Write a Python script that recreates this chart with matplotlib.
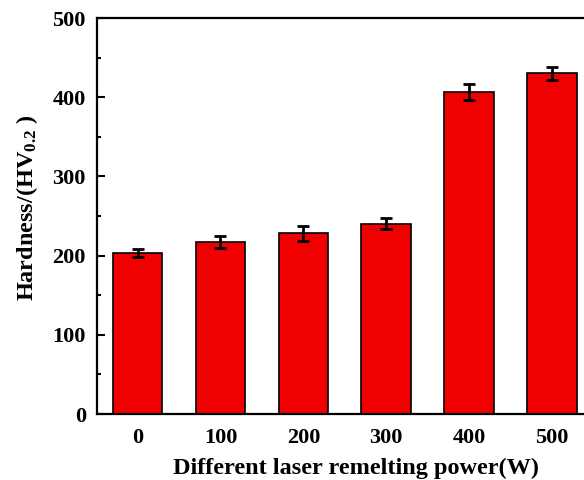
import numpy as np
import matplotlib
matplotlib.use("Agg")
import matplotlib.pyplot as plt
from matplotlib.ticker import MultipleLocator

# laser remelting power (W) and measured microhardness
powers = ["0", "100", "200", "300", "400", "500"]
hardness = [203, 217, 228, 240, 407, 430]
hardness_err = [5, 8, 9, 7, 10, 8]

plt.rcParams["font.family"] = ["Liberation Serif", "DejaVu Serif"]
plt.rcParams["font.weight"] = "bold"
plt.rcParams["mathtext.fontset"] = "custom"
plt.rcParams["mathtext.rm"] = "Liberation Serif:bold"
plt.rcParams["mathtext.bf"] = "Liberation Serif:bold"
plt.rcParams["mathtext.it"] = "Liberation Serif:bold"

fig = plt.figure(figsize=(5.84, 4.80), dpi=100)
ax = fig.add_axes([0.166, 0.1375, 0.849, 0.825])

x = np.arange(len(powers))
ax.bar(x, hardness, width=0.6, color="#f00000", edgecolor="black", linewidth=1.2,
       yerr=hardness_err, capsize=4,
       error_kw=dict(elinewidth=2, capthick=2, ecolor="black"))

ax.set_xlim(-0.49, len(powers) - 0.51)
ax.set_ylim(0, 500)
ax.set_xticks(x)
ax.set_xticklabels(powers)
ax.yaxis.set_major_locator(MultipleLocator(100))
ax.yaxis.set_minor_locator(MultipleLocator(50))
ax.tick_params(axis="y", which="major", direction="in", length=6, width=1.5, labelsize=16, pad=8)
ax.tick_params(axis="y", which="minor", direction="in", length=3, width=1.5)
ax.tick_params(axis="x", which="both", length=0, labelsize=16, pad=10)
for lab in ax.get_xticklabels() + ax.get_yticklabels():
    lab.set_fontweight("bold")

for sp in ax.spines.values():
    sp.set_linewidth(1.6)

ax.set_xlabel("Different laser remelting power(W)", fontsize=17.5, fontweight="bold",
              labelpad=7, x=0.522)
ax.set_ylabel("Hardness/(HV$_{0.2}$ )", fontsize=17.5, fontweight="bold", labelpad=9, y=0.52)

fig.savefig("out.png", dpi=100)
